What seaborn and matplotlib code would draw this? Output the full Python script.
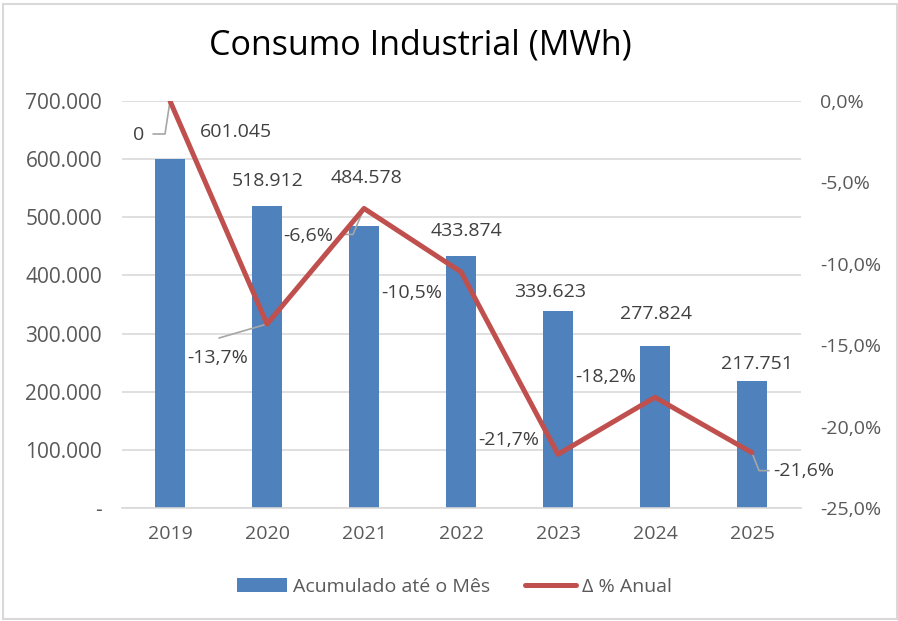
import matplotlib
matplotlib.use("Agg")
import matplotlib.pyplot as plt
import seaborn as sns
import numpy as np
import pandas as pd
from matplotlib.patches import Rectangle, Patch
from matplotlib.lines import Line2D

# ---- data ----
years = ["2019", "2020", "2021", "2022", "2023", "2024", "2025"]
consumo = [601045, 518912, 484578, 433874, 339623, 277824, 217751]
var_pct = [0.0, -13.7, -6.6, -10.5, -21.7, -18.2, -21.6]
bar_labels = ["601.045", "518.912", "484.578", "433.874", "339.623", "277.824", "217.751"]
pct_labels = ["0", "-13,7%", "-6,6%", "-10,5%", "-21,7%", "-18,2%", "-21,6%"]
left_ticks = [0, 100000, 200000, 300000, 400000, 500000, 600000, 700000]
left_tick_labels = ["-", "100.000", "200.000", "300.000", "400.000", "500.000", "600.000", "700.000"]
right_ticks = [0, -5, -10, -15, -20, -25]
right_tick_labels = ["0,0%", "-5,0%", "-10,0%", "-15,0%", "-20,0%", "-25,0%"]
title = "Consumo Industrial (MWh)"
legend_labels = ["Acumulado até o Mês", "Δ % Anual"]

# ---- layout (pixel offsets of labels) ----
bar_lab_off = [(66, 27), (1, 25), (3, 48), (6, 25), (-8, 19), (1, 32), (5, 17)]
pct_lab_off = [(-31, -34), (-49, -34), (-56, -28), (-49, -21), (-49, 14), (-49, 20), (52, -18)]
leaders = {0: [(0, 0), (-5, -33), (-17, -33)],
           1: [(0, 0), (-48, -14)],
           2: [(0, 0), (-11, -26), (-21, -26)],
           6: [(0, 0), (7, -18), (17, -18)]}

BAR_C = "#4F81BD"
LINE_C = "#C0504D"
GRID_C = "#D9D9D9"
TICK_C = "#595959"
LAB_C = "#404040"

sns.set_theme(style="white")
plt.rcParams['font.family'] = ['Open Sans', 'DejaVu Sans']

W, H = 898, 621
fig = plt.figure(figsize=(W / 100, H / 100), dpi=100)
fig.patch.set_facecolor("white")
fig.patches.append(Rectangle((2.5 / W, 1 - 619 / H), 894 / W, 615.5 / H,
                             transform=fig.transFigure, fill=False,
                             edgecolor=GRID_C, linewidth=1.5))

ax = fig.add_axes([121.5 / W, 1 - 508 / H, 679 / W, 407 / H])
df = pd.DataFrame({"Ano": years, "Consumo": consumo})
sns.barplot(data=df, x="Ano", y="Consumo", ax=ax, color=BAR_C, saturation=1,
            width=0.31, edgecolor="none", errorbar=None)
ax.set_xlim(-0.5, len(years) - 0.5)
ax.set_ylim(0, 700000)
ax.set_yticks(left_ticks)
ax.set_yticklabels(left_tick_labels)
ax.set_xlabel("")
ax.set_ylabel("")
ax.yaxis.grid(True, color=GRID_C, linewidth=1.2)
ax.set_axisbelow(True)
for s in ["top", "right", "left"]:
    ax.spines[s].set_visible(False)
ax.spines["bottom"].set_color(GRID_C)
ax.spines["bottom"].set_linewidth(1.2)
ax.tick_params(axis="y", length=0, pad=14, labelsize=15, labelcolor=TICK_C)
ax.tick_params(axis="x", length=0, pad=12, labelsize=14, labelcolor=TICK_C)

for i, (v, lab) in enumerate(zip(consumo, bar_labels)):
    dx, dy = bar_lab_off[i]
    ax.annotate(lab, xy=(i, v), xytext=(dx / 1.3889, dy / 1.3889),
                textcoords="offset points", ha="center", va="center",
                fontsize=14, color=LAB_C)

ax2 = ax.twinx()
sns.lineplot(x=np.arange(len(years)), y=var_pct, ax=ax2, color=LINE_C,
             linewidth=3.6, legend=False)
ax2.set_ylim(-25, 0)
ax2.set_yticks(right_ticks)
ax2.set_yticklabels(right_tick_labels)
ax2.grid(False)
for s in ["top", "right", "left", "bottom"]:
    ax2.spines[s].set_visible(False)
ax2.tick_params(axis="y", length=0, pad=14, labelsize=14, labelcolor=TICK_C)
ax2.set_xlim(-0.5, len(years) - 0.5)

for i, (v, lab) in enumerate(zip(var_pct, pct_labels)):
    dx, dy = pct_lab_off[i]
    ax2.annotate(lab, xy=(i, v), xytext=(dx / 1.3889, dy / 1.3889),
                 textcoords="offset points", ha="center", va="center",
                 fontsize=14, color=LAB_C)

inv = ax2.transData.inverted()
for i, pts in leaders.items():
    px, py = ax2.transData.transform((i, var_pct[i]))
    data_pts = inv.transform([(px + ox, py + oy) for ox, oy in pts])
    ax2.plot(data_pts[:, 0], data_pts[:, 1], color="#A6A6A6", linewidth=1.2,
             zorder=1)

fig.text(420 / W, 1 - 46 / H, title, ha="center", va="center",
         fontsize=24.5, color="black")

handles = [Patch(facecolor=BAR_C, edgecolor="none"),
           Line2D([0], [0], color=LINE_C, linewidth=3.6)]
leg = fig.legend(handles, legend_labels, loc="center",
                 bbox_to_anchor=(454 / W, 1 - 587 / H), ncol=2, frameon=False,
                 fontsize=14, handlelength=2.6, handleheight=0.7,
                 columnspacing=1.8, handletextpad=0.3)
for t in leg.get_texts():
    t.set_color(TICK_C)

fig.savefig("out.png", dpi=100)
